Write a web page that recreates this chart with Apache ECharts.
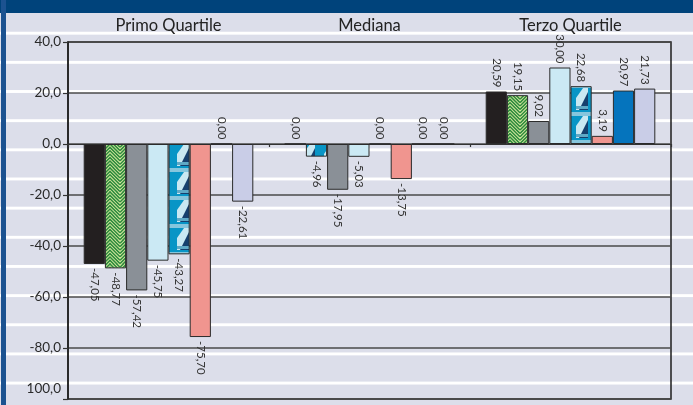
<!DOCTYPE html>
<html>
<head>
<meta charset="utf-8">
<script src="https://cdn.jsdelivr.net/npm/echarts@6/dist/echarts.min.js"></script>
<style>
  html, body { margin: 0; padding: 0; }
  body {
    width: 693px; height: 405px; overflow: hidden; position: relative;
    background-color: #dcdeea;
    background-image: linear-gradient(to bottom, rgba(255,255,255,0) 0, rgba(255,255,255,0) 26px, #ffffff 26px, #ffffff 29.17px);
    background-size: 100% 29.17px;
    background-position: 0 5.5px;
  }
  #band { position: absolute; left: 0; top: 0; width: 693px; height: 13px; background: #00437b; }
  #edge { position: absolute; left: 1px; top: 0; width: 5px; height: 405px; background: #1c5290; }
  #chart { position: absolute; left: 0; top: 0; width: 693px; height: 405px; }
</style>
</head>
<body>
<div id="band"></div>
<div id="edge"></div>
<div id="chart"></div>
<script>
// Groups along the category axis
const categories = ['Primo Quartile', 'Mediana', 'Terzo Quartile'];

// Values per series, one entry per group
const black    = [-47.05,   0.00, 20.59];
const green    = [-48.77,  -4.96, 19.15];
const gray     = [-57.42, -17.95,  9.02];
const skyBlue  = [-45.75,  -5.03, 30.00];
const teal     = [-43.27,   0.00, 22.68];
const salmon   = [-75.70, -13.75,  3.19];
const blue     = [  0.00,   0.00, 20.97];
const lavender = [-22.61,   0.00, 21.73];

// Value axis range and step
const yMin = -100, yMax = 40, yStep = 20;

const FONT = 'Lato, "Open Sans", sans-serif';

// Chevron fill: green stripes on a pale yellow-green ground
function greenTile() {
  const c = document.createElement('canvas');
  c.width = 20; c.height = 24;
  const g = c.getContext('2d');
  g.fillStyle = '#d6e8a0';
  g.fillRect(0, 0, 20, 24);
  g.strokeStyle = '#2c8a3c';
  g.lineWidth = 1.5;
  for (let k = -24; k <= 48; k += 3.4) {
    g.beginPath(); g.moveTo(0, k); g.lineTo(10, k - 10); g.lineTo(20, k); g.stroke();
  }
  return c;
}

// Teal fill with light bands and triangles
function tealTile() {
  const c = document.createElement('canvas');
  c.width = 21; c.height = 28;
  const g = c.getContext('2d');
  g.fillStyle = '#0895c6';
  g.fillRect(0, 0, 21, 28);
  g.fillStyle = '#86c6dd';
  g.fillRect(0, 0, 21, 4);
  g.fillStyle = '#c9e8f2';
  g.beginPath(); g.moveTo(9, 4); g.lineTo(21, 4); g.lineTo(21, 26); g.lineTo(9, 26); g.closePath(); g.fill();
  g.fillStyle = '#0895c6';
  g.beginPath(); g.moveTo(9, 4); g.lineTo(16, 4); g.lineTo(9, 14); g.closePath(); g.fill();
  g.fillStyle = '#16406e';
  g.beginPath(); g.moveTo(21, 8); g.lineTo(21, 26); g.lineTo(12, 26); g.closePath(); g.fill();
  g.fillStyle = '#5fa9c6';
  g.fillRect(9, 22, 12, 3);
  return c;
}

const greenPattern = { image: greenTile(), repeat: 'repeat' };
const tealPattern = { image: tealTile(), repeat: 'repeat' };

function fmt2(v) { return v.toFixed(2).replace('.', ','); }

function makeSeries(name, values, color) {
  return {
    name: name,
    type: 'bar',
    barWidth: 21.2,
    barGap: '0%',
    xAxisIndex: 0,
    itemStyle: { color: color, borderColor: '#2b2b2b', borderWidth: 1 },
    label: {
      show: true,
      rotate: -90,
      distance: 4,
      fontSize: 11.5,
      fontFamily: FONT,
      color: '#333333',
      verticalAlign: 'middle',
      formatter: p => fmt2(p.value)
    },
    data: values.map(v => ({
      value: v,
      label: { position: v < 0 ? 'bottom' : 'top', align: v < 0 ? 'left' : 'right' }
    }))
  };
}

const chart = echarts.init(document.getElementById('chart'), null, { renderer: 'canvas' });

const series = [
  makeSeries('nero', black, '#231f20'),
  makeSeries('verde', green, greenPattern),
  makeSeries('grigio', gray, '#8a9097'),
  makeSeries('azzurro', skyBlue, '#cbe9f4'),
  makeSeries('turchese', teal, tealPattern),
  makeSeries('salmone', salmon, '#f0958f'),
  makeSeries('blu', blue, '#0574bd'),
  makeSeries('lavanda', lavender, '#c9cde7')
];
// the middle group's green bar is filled with the teal motif
series[1].data[1].itemStyle = { color: tealPattern };

chart.setOption({
  animation: false,
  backgroundColor: 'transparent',
  grid: {
    left: 68, right: 22, top: 42, bottom: 6,
    show: true, borderColor: '#1e1e1e', borderWidth: 1.5, backgroundColor: 'transparent'
  },
  xAxis: [
    {
      type: 'category',
      position: 'top',
      data: categories,
      axisLine: { show: false, onZero: false },
      axisTick: { show: false },
      axisLabel: { margin: 8, fontSize: 16.5, fontFamily: FONT, color: '#222222' }
    },
    {
      type: 'category',
      position: 'bottom',
      data: categories,
      axisLine: { show: true, onZero: true, lineStyle: { color: '#333333', width: 1.2 } },
      axisTick: { show: true, length: 3, lineStyle: { color: '#333333', width: 1.2 } },
      axisLabel: { show: false }
    }
  ],
  yAxis: {
    type: 'value',
    min: yMin, max: yMax, interval: yStep,
    axisLine: { show: true, lineStyle: { color: '#1e1e1e', width: 1.5 } },
    axisTick: { show: true, length: 5, lineStyle: { color: '#333333', width: 1.2 } },
    splitLine: { show: true, lineStyle: { color: '#4a4a4a', width: 1.5 } },
    axisLabel: {
      margin: 7,
      fontSize: 13.5,
      fontFamily: FONT,
      color: '#2a2a2a',
      formatter: v => v === yMin ? '{low|100,0}' : v.toFixed(1).replace('.', ',').replace('-0,0', '0,0'),
      rich: { low: { fontSize: 13.5, fontFamily: FONT, color: '#2a2a2a', padding: [0, 0, 20, 0] } }
    }
  },
  series: series
});
</script>
</body>
</html>
